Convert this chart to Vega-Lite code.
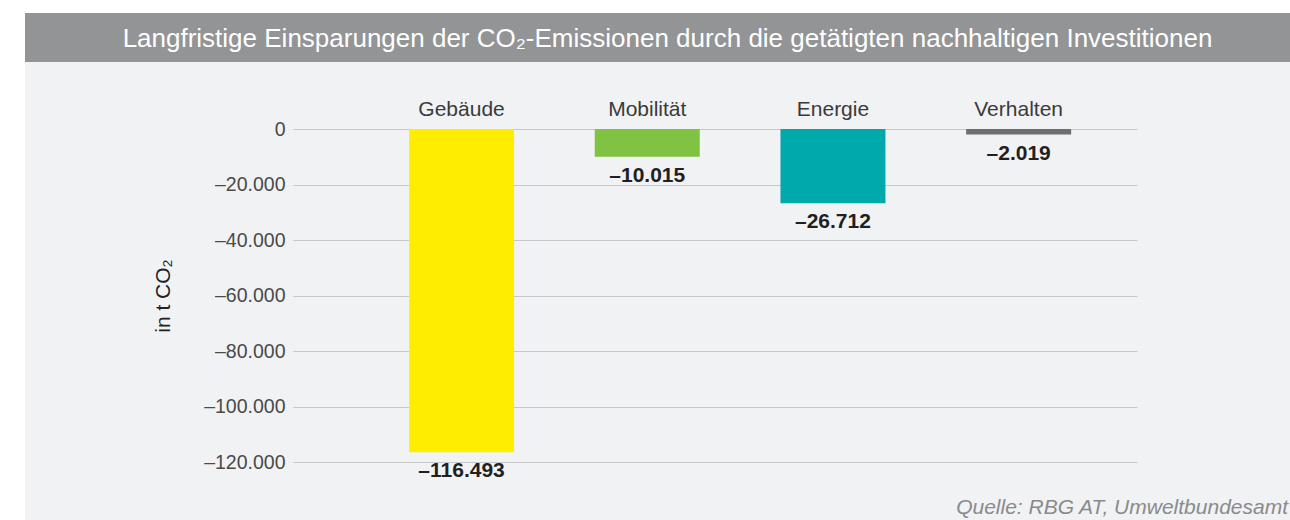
{
  "$schema": "https://vega.github.io/schema/vega-lite/v6.json",
  "background": "#ffffff",
  "padding": {"left": 25, "top": 13, "right": 0, "bottom": 0},
  "spacing": 0,
  "bounds": "flush",
  "vconcat": [
    {
      "width": 1265,
      "height": 49,
      "view": {"fill": "#939496", "stroke": null},
      "data": {"values": [{"titel": "Langfristige Einsparungen der CO₂-Emissionen durch die getätigten nachhaltigen Investitionen"}]},
      "mark": {"type": "text", "color": "#ffffff", "fontSize": 26, "align": "center", "baseline": "middle", "dx": 10, "dy": 1},
      "encoding": {"text": {"field": "titel", "type": "nominal"}}
    },
    {
      "width": 1265,
      "height": 458,
      "view": {"fill": "#f1f2f4", "stroke": null},
      "title": {"text": "Quelle: RBG AT, Umweltbundesamt", "orient": "bottom", "anchor": "end", "frame": "group", "offset": -6, "baseline": "alphabetic", "fontSize": 21, "fontStyle": "italic", "fontWeight": "normal", "color": "#8a8a8c", "dx": -2},
      "data": {"values": [
        {"bereich": "Gebäude", "wert": -116493},
        {"bereich": "Mobilität", "wert": -10015},
        {"bereich": "Energie", "wert": -26712},
        {"bereich": "Verhalten", "wert": -2019}
      ]},
      "encoding": {
        "x": {
          "field": "bereich", "type": "nominal", "sort": null,
          "scale": {"range": [268, 1112], "paddingInner": 0.4346, "paddingOuter": 0.4898, "align": 0.638},
          "axis": {"orient": "top", "offset": -67, "title": null, "domain": false, "ticks": false, "tickSize": 0, "grid": false, "labelAngle": 0, "labelPadding": 14, "labelBaseline": "alphabetic", "labelFontSize": 21, "labelColor": "#3a3a3a"}
        },
        "y": {
          "field": "wert", "type": "quantitative",
          "scale": {"domain": [-120000, 0], "range": [400, 67], "nice": false},
          "axis": {"orient": "left", "offset": -268, "values": [0, -20000, -40000, -60000, -80000, -100000, -120000], "format": ",d", "domain": false, "ticks": false, "tickSize": 0, "grid": true, "gridColor": "#c6c7c9", "gridWidth": 1, "labelPadding": 8, "labelFontSize": 19.5, "labelColor": "#4a4a4a", "title": "in t CO₂", "titleFontSize": 21, "titleFontWeight": "normal", "titleColor": "#222222", "titlePadding": 30}
        }
      },
      "layer": [
        {
          "mark": {"type": "bar"},
          "encoding": {
            "color": {"field": "bereich", "type": "nominal", "legend": null,
              "scale": {"domain": ["Gebäude", "Mobilität", "Energie", "Verhalten"], "range": ["#ffed00", "#80c241", "#00a9ac", "#6d6e71"]}}
          }
        },
        {
          "mark": {"type": "text", "baseline": "top", "dy": 8, "fontSize": 21, "fontWeight": "bold", "color": "#231f20"},
          "encoding": {"text": {"field": "wert", "type": "quantitative", "format": ",d"}}
        }
      ]
    }
  ],
  "config": {
    "font": "Liberation Sans",
    "locale": {"number": {"decimal": ",", "thousands": ".", "grouping": [3], "currency": ["", " €"], "minus": "–"}}
  }
}
